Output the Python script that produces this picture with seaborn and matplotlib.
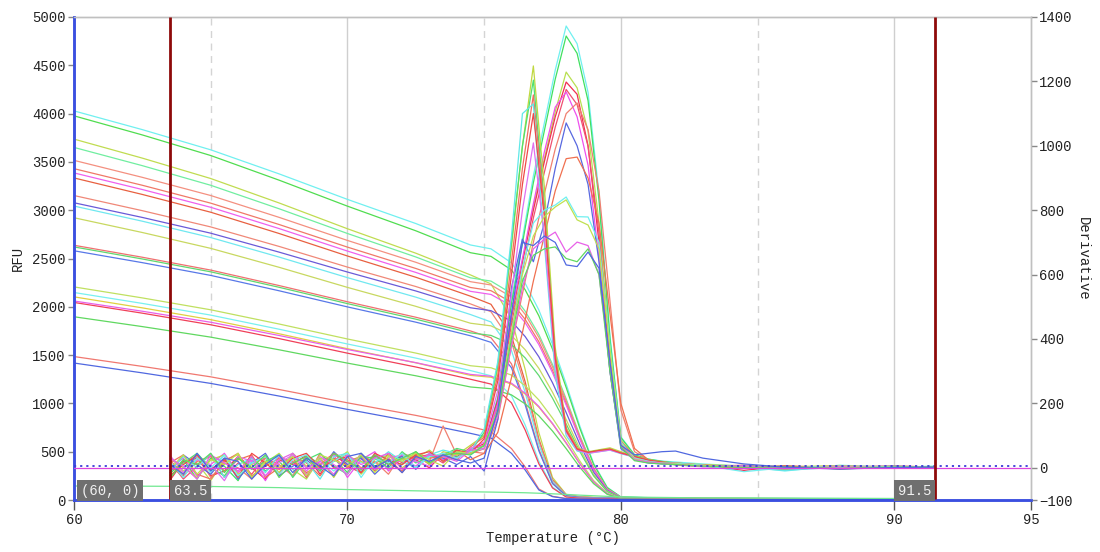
import matplotlib
matplotlib.use("Agg")
import matplotlib.pyplot as plt
import pandas as pd
import seaborn as sns

# ---------------- data ----------------
temp_rfu = [60, 62.5, 65, 67.5, 70, 72.5, 74.5, 75.25, 76, 76.5, 77, 77.5, 78, 78.5, 79, 79.5, 80, 81, 83, 87, 91.5]

rfu_01 = [4028, 3834, 3625, 3376, 3112, 2862, 2640, 2600, 2455, 2244, 1967, 1610, 1201, 766, 383, 132, 32, 24, 18, 16, 13]
rfu_02 = [3977, 3779, 3566, 3311, 3042, 2787, 2560, 2522, 2381, 2176, 1907, 1562, 1165, 742, 371, 128, 31, 23, 18, 15, 13]
rfu_03 = [3736, 3539, 3328, 3075, 2808, 2555, 2330, 2237, 1876, 1351, 699, 233, 58, 35, 28, 26, 23, 21, 16, 14, 12]
rfu_04 = [3650, 3461, 3258, 3015, 2759, 2516, 2300, 2266, 2139, 1955, 1714, 1403, 1047, 667, 334, 115, 28, 21, 16, 14, 12]
rfu_05 = [3516, 3340, 3152, 2926, 2687, 2461, 2260, 2226, 2102, 1921, 1684, 1379, 1028, 655, 328, 113, 27, 20, 16, 14, 11]
rfu_06 = [3430, 3258, 3073, 2852, 2618, 2397, 2200, 2167, 2046, 1870, 1639, 1342, 1001, 638, 319, 110, 26, 20, 15, 13, 11]
rfu_07 = [3386, 3214, 3030, 2810, 2577, 2356, 2160, 2128, 2009, 1836, 1609, 1318, 983, 626, 313, 108, 26, 19, 15, 13, 11]
rfu_08 = [3334, 3163, 2979, 2759, 2526, 2306, 2110, 2026, 1699, 1224, 633, 211, 53, 32, 25, 23, 21, 19, 15, 13, 11]
rfu_09 = [3152, 2995, 2827, 2625, 2411, 2210, 2030, 1949, 1634, 1177, 609, 203, 51, 30, 24, 22, 20, 18, 14, 12, 10]
rfu_10 = [3077, 2925, 2762, 2566, 2360, 2164, 1990, 1960, 1851, 1692, 1483, 1214, 905, 577, 289, 100, 24, 18, 14, 12, 10]
rfu_11 = [3043, 2886, 2717, 2515, 2302, 2100, 1920, 1843, 1546, 1114, 576, 192, 48, 29, 23, 21, 19, 17, 13, 12, 10]
rfu_12 = [2922, 2769, 2605, 2409, 2201, 2005, 1830, 1803, 1702, 1556, 1363, 1116, 833, 531, 265, 92, 22, 16, 13, 11, 9]
rfu_13 = [2637, 2513, 2380, 2220, 2052, 1892, 1750, 1680, 1409, 1015, 525, 175, 44, 26, 21, 19, 18, 16, 12, 11, 9]
rfu_14 = [2620, 2495, 2362, 2202, 2033, 1872, 1730, 1704, 1609, 1471, 1289, 1055, 787, 502, 251, 87, 21, 16, 12, 10, 9]
rfu_15 = [2580, 2457, 2325, 2166, 1999, 1841, 1700, 1632, 1369, 986, 510, 170, 43, 26, 20, 19, 17, 15, 12, 10, 9]
rfu_16 = [2206, 2092, 1969, 1822, 1667, 1521, 1390, 1369, 1293, 1182, 1036, 848, 632, 403, 202, 70, 17, 13, 10, 8, 7]
rfu_17 = [2148, 2035, 1914, 1768, 1615, 1469, 1340, 1286, 1079, 777, 402, 134, 34, 20, 16, 15, 13, 12, 9, 8, 7]
rfu_18 = [2103, 1989, 1867, 1721, 1566, 1420, 1290, 1271, 1200, 1097, 961, 787, 587, 374, 187, 65, 15, 12, 9, 8, 6]
rfu_19 = [2045, 1934, 1814, 1671, 1520, 1377, 1250, 1200, 1006, 725, 375, 125, 31, 19, 15, 14, 13, 11, 9, 8, 6]
rfu_20 = [2060, 1954, 1840, 1703, 1558, 1422, 1300, 1281, 1209, 1105, 969, 793, 592, 377, 189, 65, 16, 12, 9, 8, 7]
rfu_21 = [1897, 1795, 1686, 1555, 1417, 1286, 1170, 1152, 1088, 995, 872, 714, 532, 339, 170, 59, 14, 11, 8, 7, 6]
rfu_22 = [1485, 1383, 1275, 1144, 1006, 876, 760, 707, 532, 342, 114, 38, 15, 11, 9, 8, 8, 7, 5, 5, 4]
rfu_23 = [1418, 1316, 1207, 1076, 938, 806, 690, 642, 483, 311, 104, 35, 14, 10, 8, 8, 7, 6, 5, 4, 3]
rfu_24 = [145, 143, 140, 128, 108, 95, 85, 82, 78, 75, 70, 64, 58, 50, 44, 38, 33, 28, 22, 18, 15]

temp_deriv = [63.5, 64, 64.5, 65, 65.5, 66, 66.5, 67, 67.5, 68, 68.5, 69, 69.5, 70, 70.5, 71, 71.5,
              72, 72.5, 73, 73.5, 74, 74.5,
              75, 75.5, 76, 76.4, 76.8, 77.2, 77.6, 78, 78.4, 78.8, 79.2, 79.6, 80, 80.5, 81, 81.5,
              82, 83, 84.5, 86, 88, 90, 91.5]

der_01 = [10, -30, 35, -15, 40, -25, 20, 30, -20, 45, 0, 25, -10, 30, 15, 40, -5, 35, 20, 45, 30, 55, 40,
          69, 220, 521, 713, 906, 1070, 1235, 1372, 1317, 1166, 851, 412, 96, 41, 27, 21,
          18, 12, 5, -10, 8, 2, 5]
der_02 = [-20, 25, -35, 30, 5, -40, 35, -10, 20, -25, 40, 10, 30, -15, 45, 5, 25, 10, 50, 15, 40, 35, 60,
          67, 215, 510, 697, 885, 1046, 1207, 1341, 1287, 1140, 831, 402, 94, 40, 27, 20,
          15, 8, 0, 6, -4, 3, 4]
der_03 = [35, -10, 15, -40, 25, 40, -30, 15, 45, -5, -35, 30, 20, 50, -20, 25, 40, 0, 30, 55, 20, 45, 50,
          61, 197, 467, 639, 811, 959, 1106, 1229, 1180, 1045, 762, 369, 86, 37, 25, 18,
          14, 10, 6, 3, 7, 0, 3]
der_04 = [-40, 20, 30, -25, -10, 35, 0, -35, 25, 10, 40, -20, 45, 5, -15, 35, 10, 40, 25, 0, 45, 30, 55,
          75, 210, 470, 640, 800, 950, 1090, 1198, 1160, 1000, 700, 320, 70, 32, 22, 16,
          12, 6, -8, 5, 2, 6, 2]
der_05 = [20, -35, 5, 40, -30, 15, -20, 35, -5, 30, -30, 45, 0, 20, 35, -10, 45, 15, 35, 40, 15, 50, 45,
          59, 188, 447, 611, 776, 917, 1058, 1175, 1128, 999, 729, 353, 82, 35, 24, 18,
          12, 4, 8, -3, 5, 1, 3]
der_06 = [0, 30, -25, 10, 45, -15, 25, -40, 35, 15, -20, 20, 40, -30, 25, 50, -10, 30, 5, 45, 25, 40, 60,
          70, 200, 480, 650, 820, 980, 1120, 1167, 1090, 940, 650, 300, 70, 30, 20, 15,
          10, 5, 2, -6, 4, 0, 2]
der_07 = [25, -20, 40, -30, 15, 0, -35, 30, 10, -25, 35, -5, 25, 40, 0, 20, -20, 45, 30, 20, 130, 40, 50,
          45, 150, 380, 540, 700, 850, 990, 1100, 1133, 1050, 860, 520, 180, 50, 25, 17,
          15, 8, 4, 0, 6, 2, 3]
der_08 = [-15, 40, 10, -20, 30, -35, 15, 45, -25, 5, 25, -10, 50, 10, 30, -20, 20, 35, -5, 40, 30, 10, 35,
          -10, 150, 560, 710, 640, 760, 930, 1071, 1000, 880, 640, 300, 60, 25, 15, 12,
          12, 6, 2, 4, 0, 3, 2]
der_09 = [5, -25, 20, 35, -10, 25, 40, -30, 0, 35, 15, -25, 30, 0, 40, 15, 30, -15, 40, 10, 35, 55, 25,
          45, 110, 280, 420, 580, 720, 860, 960, 965, 900, 760, 480, 200, 60, 25, 18,
          14, 8, 3, -5, 4, 1, 3]
der_10 = [30, 0, -30, 25, 40, -20, 10, 35, -15, 45, 5, 30, -30, 35, 20, 0, 40, 25, 45, 10, 50, 40, 70,
          100, 312, 686, 998, 1248, 874, 374, 125, 62, 50, 56, 62, 50, 37, 25, 19,
          10, 6, 3, 0, 5, 1, 3]
der_11 = [-30, 15, 45, 0, -25, 30, -5, 20, 40, -30, 25, 45, 5, -20, 35, 30, 0, 50, 15, 35, 40, 60, 50,
          110, 320, 700, 1000, 1204, 820, 340, 115, 58, 48, 54, 58, 46, 35, 24, 18,
          10, 5, 7, -4, 3, 0, 2]
der_12 = [15, 40, -20, -35, 20, 45, -25, 5, 30, 20, -15, 10, 45, 25, -5, 40, 15, -10, 45, 30, 35, 25, 65,
          95, 290, 640, 930, 1158, 800, 350, 120, 60, 48, 52, 58, 46, 35, 23, 17,
          11, 7, 2, 6, -2, 4, 2]
der_13 = [-10, 35, 0, 45, -30, 10, 30, -15, 40, -5, 20, -35, 35, 45, -10, 15, 50, 20, 0, 40, 55, 45, 50,
          120, 330, 720, 1100, 1130, 700, 290, 100, 52, 45, 50, 55, 44, 33, 22, 16,
          9, 4, 0, -8, 2, 5, 2]
der_14 = [40, -15, 25, 10, -40, 35, 20, -25, 15, 40, -10, 35, 10, -20, 45, -5, 30, 40, 20, 5, 45, 30, 60,
          80, 240, 540, 800, 1009, 720, 320, 110, 55, 45, 50, 55, 45, 33, 22, 16,
          9, 3, 5, -2, 4, 0, 2]
der_15 = [-25, 10, 40, -5, 25, -30, 45, 15, -20, 30, 45, 0, 20, 35, -15, 45, 25, 10, 40, 50, 20, 55, 45,
          90, 270, 600, 880, 1100, 780, 340, 115, 58, 48, 54, 58, 46, 35, 24, 18,
          10, 5, 0, 4, -3, 2, 2]
der_16 = [20, -30, 30, 0, 40, -25, 15, 35, -20, 25, 40, -10, 20, 45, -30, 30, 15, 45, 0, 35, 45, 30, 50,
          60, 180, 420, 620, 760, 800, 816, 841, 780, 779, 700, 380, 80, 30, 20, 15,
          14, 8, -12, 0, 5, 2, 3]
der_17 = [-5, 40, -20, 25, 10, 45, -30, 20, 0, 35, -25, 40, 25, 5, 40, -15, 35, 20, 45, 25, 5, 50, 45,
          70, 180, 420, 600, 720, 780, 810, 832, 770, 754, 680, 370, 75, 28, 18, 14,
          12, 6, 2, -3, 4, 1, 2]
der_18 = [30, 5, -35, 40, 15, -10, 35, -25, 25, 45, 0, 20, -20, 40, 10, 30, 45, -5, 25, 40, 35, 20, 55,
          60, 160, 380, 560, 680, 710, 732, 670, 701, 690, 600, 320, 70, 25, 18, 14,
          10, 4, 6, -2, 3, 0, 2]
der_19 = [-35, 25, 10, 45, -15, 30, 0, 40, -30, 15, 35, -10, 45, 20, -5, 40, 10, 30, 50, 15, 40, 45, 40,
          70, 170, 400, 580, 660, 680, 686, 650, 640, 680, 600, 300, 65, 22, 15, 12,
          10, 5, 1, 3, -2, 2, 2]
der_20 = [10, -20, 45, -10, 30, 20, -35, 10, 40, -15, 30, 5, -25, 35, 45, 0, 25, -15, 35, 20, 40, 25, 15,
          30, 180, 480, 700, 690, 720, 700, 630, 625, 670, 620, 330, 70, 40, 45, 50,
          52, 30, 12, 2, -4, 1, 2]

x_ticks = [60, 70, 80, 90, 95]
rfu_ticks = [0, 500, 1000, 1500, 2000, 2500, 3000, 3500, 4000, 4500, 5000]
deriv_ticks = [-100, 0, 200, 400, 600, 800, 1000, 1200, 1400]
melt_bounds = [63.5, 91.5]
solid_grid = [70, 80, 90]
dashed_grid = [65, 75, 85]
threshold_deriv = 0
baseline_deriv = 5

# ---------------- styles ----------------
rfu_series = [rfu_01, rfu_02, rfu_03, rfu_04, rfu_05, rfu_06, rfu_07, rfu_08, rfu_09, rfu_10, rfu_11, rfu_12,
              rfu_13, rfu_14, rfu_15, rfu_16, rfu_17, rfu_18, rfu_19, rfu_20, rfu_21, rfu_22, rfu_23, rfu_24]
rfu_colors = ["#70f0f0", "#50dd50", "#c0dc50", "#70eea0", "#f49080", "#f07868", "#ee60ee", "#e86040",
              "#f08878", "#6a5ad8", "#70e8f0", "#c8d860", "#f07070", "#60d870", "#5878e8", "#c0e060",
              "#78f0f0", "#e0d040", "#f04058", "#e860e8", "#60d860", "#f07870", "#5068e0", "#70e890"]
der_series = [der_01, der_02, der_03, der_04, der_05, der_06, der_07, der_08, der_09, der_10,
              der_11, der_12, der_13, der_14, der_15, der_16, der_17, der_18, der_19, der_20]
der_colors = ["#70f0f0", "#40e060", "#b8e050", "#f03050", "#f05070", "#ee50ee", "#f08070", "#5868e0",
              "#f07050", "#c0d840", "#50e070", "#f07060", "#60e8e8", "#e070f0", "#f04848", "#70f0f0",
              "#c0e050", "#e860e8", "#60d860", "#5068e0"]

for s in rfu_series:
    assert len(s) == len(temp_rfu)
for s in der_series:
    assert len(s) == len(temp_deriv)

rows = []
for i, s in enumerate(rfu_series):
    for t, v in zip(temp_rfu, s):
        rows.append((f"w{i:02d}", t, v))
df_rfu = pd.DataFrame(rows, columns=["well", "temp", "rfu"])

rows = []
for i, s in enumerate(der_series):
    for t, v in zip(temp_deriv, s):
        rows.append((f"w{i:02d}", t, v))
df_der = pd.DataFrame(rows, columns=["well", "temp", "deriv"])

sns.set_style("white")
plt.rcParams["font.family"] = ["Liberation Mono", "DejaVu Sans Mono"]

fig = plt.figure(figsize=(11.0, 5.52), dpi=100)
ax = fig.add_axes([74 / 1100, 52 / 552, (1031 - 74) / 1100, (500 - 17) / 552])
ax2 = ax.twinx()

for x in solid_grid:
    ax.axvline(x, color="#cfcfcf", lw=1.0, zorder=0)
for x in dashed_grid:
    ax.axvline(x, color="#d4d4d4", lw=1.0, ls=(0, (5, 4)), zorder=0)

sns.lineplot(data=df_rfu, x="temp", y="rfu", hue="well", palette=rfu_colors, estimator=None,
             sort=False, legend=False, linewidth=0.9, ax=ax)
sns.lineplot(data=df_der, x="temp", y="deriv", hue="well", palette=der_colors, estimator=None,
             sort=False, legend=False, linewidth=0.9, ax=ax2)

ax2.axhline(threshold_deriv, color="#dd44dd", lw=0.9, zorder=3)
ax2.axhline(baseline_deriv, color="#3a3ad8", lw=1.3, ls=(0, (1.2, 2.2)), zorder=3)

for xb in melt_bounds:
    ax2.plot([xb, xb], [-97, 1400], color="#8e0a0a", lw=2.0, zorder=5, solid_capstyle="butt")

ax.set_xlim(60, 95)
ax.set_ylim(0, 5000)
ax2.set_ylim(-100, 1400)
ax.set_xticks(x_ticks)
ax.set_yticks(rfu_ticks)
ax2.set_yticks(deriv_ticks)

ax.set_xlabel("Temperature (°C)", fontsize=10, labelpad=3, color="#222222")
ax.set_ylabel("RFU", fontsize=10, labelpad=5, color="#222222")
ax2.set_ylabel("Derivative", fontsize=10, rotation=270, labelpad=12, color="#222222")

for a in (ax, ax2):
    a.spines["left"].set_color("#3b4fe0")
    a.spines["left"].set_linewidth(1.8)
    a.spines["bottom"].set_color("#3b4fe0")
    a.spines["bottom"].set_linewidth(1.8)
    a.spines["top"].set_color("#c0c0c0")
    a.spines["right"].set_color("#c0c0c0")
    a.spines["top"].set_linewidth(1.0)
    a.spines["right"].set_linewidth(1.0)
ax.tick_params(axis="y", direction="out", length=4, width=1, color="#888888", labelsize=10,
               labelcolor="#222222", pad=2, left=True)
ax.tick_params(axis="x", direction="out", length=7, width=1, color="#555555", labelsize=10,
               labelcolor="#222222", pad=2, bottom=True)
ax2.tick_params(axis="y", direction="out", length=4, width=1, color="#888888", labelsize=10,
                labelcolor="#222222", pad=2, right=True)

box = dict(boxstyle="square,pad=0.25", fc="#6f6f6f", ec="none")
ax2.text(60.25, -93, "(60, 0)", color="#f0f0f0", fontsize=10, va="bottom", ha="left", bbox=box, zorder=6)
ax2.text(63.65, -93, "63.5", color="#f0f0f0", fontsize=10, va="bottom", ha="left", bbox=box, zorder=6)
ax2.text(91.35, -93, "91.5", color="#f0f0f0", fontsize=10, va="bottom", ha="right", bbox=box, zorder=6)

fig.savefig("out.png", dpi=100)
